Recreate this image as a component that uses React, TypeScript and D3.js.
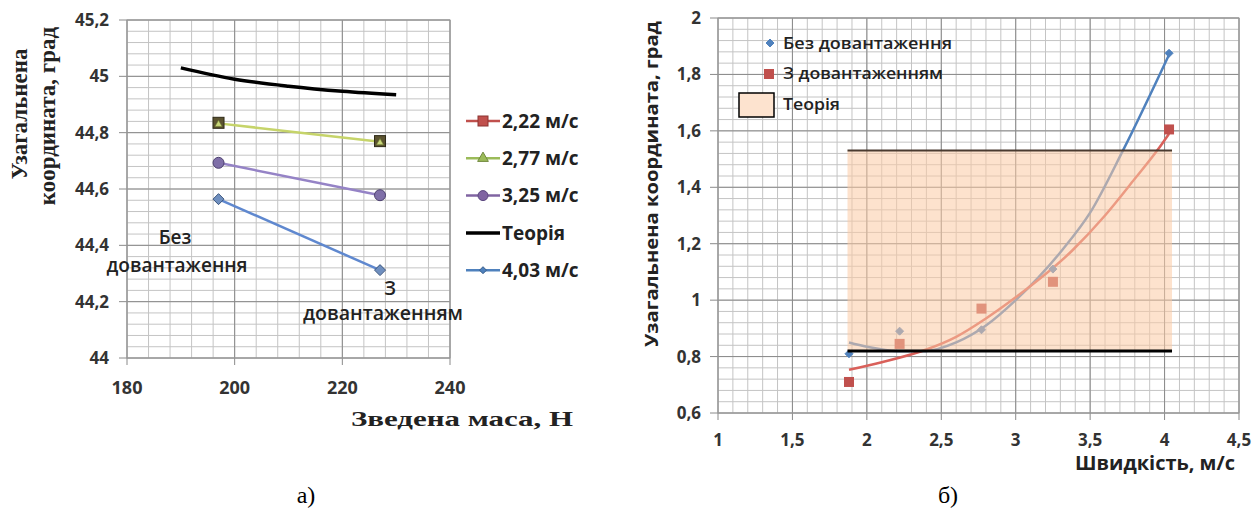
import React from 'react';
import * as d3 from 'd3';

// ---- chart а) : coordinate vs reduced mass ----
const massX = [197, 227];
const coord222 = [44.835, 44.77];
const coord277 = [44.833, 44.768];
const coord325 = [44.693, 44.578];
const coord403 = [44.564, 44.312];
const theoryMass = [190, 200, 210, 220, 230];
const theoryCoord = [45.03, 44.99, 44.965, 44.947, 44.935];
const leftXTicks = [180, 200, 220, 240];
const leftYTicks = [44, 44.2, 44.4, 44.6, 44.8, 45, 45.2];
const leftLegend = ['2,22 м/с', '2,77 м/с', '3,25 м/с', 'Теорія', '4,03 м/с'];

// ---- chart б) : coordinate vs speed ----
const speeds = [1.88, 2.22, 2.77, 3.25, 4.03];
const noLoad = [0.81, 0.89, 0.895, 1.11, 1.875];
const withLoad = [0.71, 0.845, 0.97, 1.065, 1.605];
const trendNoLoadX = [1.88, 2.0, 2.2, 2.4, 2.6, 2.8, 3.0, 3.31, 3.5, 3.72, 4.03];
const trendNoLoadY = [0.85, 0.835, 0.82, 0.82, 0.85, 0.91, 1.0, 1.176, 1.31, 1.53, 1.87];
const trendLoadX = [1.88, 2.1, 2.4, 2.6, 2.8, 3.0, 3.38, 3.6, 3.8, 3.95, 4.03];
const trendLoadY = [0.753, 0.78, 0.825, 0.87, 0.935, 1.01, 1.176, 1.3, 1.43, 1.53, 1.59];
const theorySpeed = [1.87, 4.05];
const theoryLow = [0.82, 0.82];
const theoryHigh = [1.53, 1.53];
const rightXTicks = [1, 1.5, 2, 2.5, 3, 3.5, 4, 4.5];
const rightYTicks = [0.6, 0.8, 1, 1.2, 1.4, 1.6, 1.8, 2];
const rightLegend = ['Без довантаження', 'З довантаженням', 'Теорія'];
const rightLegendWidth = [169, 160, 57];

const sans = '"Open Sans", sans-serif';
const serif = '"Liberation Serif", "Times New Roman", serif';
const fmt = (v: number) => String(+v.toFixed(2)).replace('.', ',');

const Grid = ({ x, y, xMinor, yMinor, xMajor, yMajor }: any) => {
  const [x0, x1] = x.range();
  const [y0, y1] = y.range();
  return (
    <g>
      {xMinor.map((v: number, i: number) => (
        <line key={'xm' + i} x1={x(v)} x2={x(v)} y1={y0} y2={y1} stroke="#c4c4c4" strokeWidth={1} />
      ))}
      {yMinor.map((v: number, i: number) => (
        <line key={'ym' + i} x1={x0} x2={x1} y1={y(v)} y2={y(v)} stroke="#c4c4c4" strokeWidth={1} />
      ))}
      {xMajor.map((v: number, i: number) => (
        <line key={'xM' + i} x1={x(v)} x2={x(v)} y1={y0 + 7} y2={y1} stroke="#8a8a8a" strokeWidth={1} />
      ))}
      {yMajor.map((v: number, i: number) => (
        <line key={'yM' + i} x1={x0 - 8} x2={x1} y1={y(v)} y2={y(v)} stroke="#8a8a8a" strokeWidth={1} />
      ))}
      <rect x={x0} y={y1} width={x1 - x0} height={y0 - y1} fill="none" stroke="#9a9a9a" />
    </g>
  );
};

const Diamond = ({ cx, cy, r, fill, stroke }: any) => (
  <path d={`M${cx},${cy - r}L${cx + r},${cy}L${cx},${cy + r}L${cx - r},${cy}Z`} fill={fill} stroke={stroke} strokeWidth={1} />
);

export default function App() {
  // left chart scales
  const xL = d3.scaleLinear().domain([180, 240]).range([127, 450]);
  const yL = d3.scaleLinear().domain([44, 45.2]).range([358, 20]);
  const lineL = d3.line<number>().x((_, i) => xL(massX[i]));
  const theoryLine = d3.line<number>()
    .x((_, i) => xL(theoryMass[i]))
    .y(d => yL(d))
    .curve(d3.curveMonotoneX);

  // right chart scales
  const xR = d3.scaleLinear().domain([1, 4.5]).range([718, 1239]);
  const yR = d3.scaleLinear().domain([0.6, 2]).range([413, 18]);
  const trend = (xs: number[]) => d3.line<number>()
    .x((_, i) => xR(xs[i]))
    .y(d => yR(d))
    .curve(d3.curveMonotoneX);
  const band = d3.area<number>()
    .x((_, i) => xR(theorySpeed[i]))
    .y0((_, i) => yR(theoryLow[i]))
    .y1(d => yR(d));

  const leftSeries = [
    { vals: coord277, color: '#c6d46a' },
    { vals: coord325, color: '#9583c6' },
    { vals: coord403, color: '#5f88cf' },
  ];
  const legendStyles = [
    { color: '#c0504d', mark: 'square' },
    { color: '#9bbb59', mark: 'triangle' },
    { color: '#8064a2', mark: 'circle' },
    { color: '#000000', mark: 'none' },
    { color: '#4f81bd', mark: 'diamond' },
  ];

  return (
    <svg width={1258} height={517} style={{ position: 'absolute', left: 0, top: 0, background: '#fff' }}>
      {/* ================= а) ================= */}
      <Grid
        x={xL}
        y={yL}
        xMinor={d3.range(180, 240.01, 4)}
        yMinor={d3.range(44, 45.2001, 0.04)}
        xMajor={leftXTicks}
        yMajor={leftYTicks}
      />
      <path d={theoryLine(theoryCoord) || ''} fill="none" stroke="#000" strokeWidth={3.5} />
      {leftSeries.map((s, k) => (
        <path key={k} d={lineL.y(d => yL(d))(s.vals) || ''} fill="none" stroke={s.color} strokeWidth={2.5} />
      ))}
      {/* 2,22 squares hidden under 2,77 triangles */}
      {coord222.map((v, i) => (
        <rect key={'sq' + i} x={xL(massX[i]) - 5.5} y={yL(v) - 5.5} width={11} height={11} fill="#5b5330" stroke="#2e2a18" />
      ))}
      {coord277.map((v, i) => (
        <path key={'tr' + i} d={d3.symbol(d3.symbolTriangle, 22)() || ''} transform={`translate(${xL(massX[i])},${yL(v) + 1})`} fill="#c9d77a" stroke="#6d7a30" strokeWidth={0.6} />
      ))}
      {coord325.map((v, i) => (
        <circle key={'c' + i} cx={xL(massX[i])} cy={yL(v)} r={5.5} fill="#7f6fa8" stroke="#4b3f6e" strokeWidth={1} />
      ))}
      {coord403.map((v, i) => (
        <Diamond key={'d' + i} cx={xL(massX[i])} cy={yL(v)} r={5.5} fill="#6f8fbf" stroke="#3a557e" />
      ))}
      {/* axis labels */}
      {leftYTicks.map(v => (
        <text key={'ly' + v} x={109} y={yL(v)} dy="0.35em" textAnchor="end" fontFamily={sans} fontWeight={700} fontSize={17} fill="#333">{fmt(v)}</text>
      ))}
      {leftXTicks.map(v => (
        <text key={'lx' + v} x={xL(v)} y={388} dy="0.35em" textAnchor="middle" fontFamily={sans} fontWeight={700} fontSize={18} fill="#333">{v}</text>
      ))}
      <text transform="translate(27,114) rotate(-90)" textAnchor="middle" fontFamily={serif} fontWeight={700} fontSize={23} fill="#222">Узагальнена</text>
      <text transform="translate(55,116) rotate(-90)" textAnchor="middle" fontFamily={serif} fontWeight={700} fontSize={23} fill="#222">координата, град</text>
      <text x={462} y={418} dy="0.35em" textAnchor="middle" fontFamily={serif} fontWeight={700} fontSize={22} textLength={222} lengthAdjust="spacingAndGlyphs" fill="#222">Зведена маса, Н</text>
      {/* annotations */}
      <text x={175} y={237} dy="0.35em" textAnchor="middle" fontFamily={sans} fontWeight={600} fontSize={19} fill="#222">Без</text>
      <text x={177} y={265} dy="0.35em" textAnchor="middle" fontFamily={sans} fontWeight={600} fontSize={19} textLength={141} lengthAdjust="spacingAndGlyphs" fill="#222">довантаження</text>
      <text x={390} y={288} dy="0.35em" textAnchor="middle" fontFamily={sans} fontWeight={600} fontSize={19} fill="#222">З</text>
      <text x={383} y={313} dy="0.35em" textAnchor="middle" fontFamily={sans} fontWeight={600} fontSize={19} textLength={160} lengthAdjust="spacingAndGlyphs" fill="#222">довантаженням</text>
      {/* legend */}
      {leftLegend.map((label, i) => {
        const ly = 121 + i * 37.3;
        const st = legendStyles[i];
        return (
          <g key={'ll' + i}>
            <line x1={466} x2={500} y1={ly} y2={ly} stroke={st.color} strokeWidth={st.mark === 'none' ? 3.5 : 2.5} />
            {st.mark === 'square' && <rect x={478} y={ly - 5} width={10} height={10} fill={st.color} stroke="#8c3330" />}
            {st.mark === 'triangle' && <path d={d3.symbol(d3.symbolTriangle, 50)() || ''} transform={`translate(483,${ly})`} fill={st.color} stroke="#71893f" />}
            {st.mark === 'circle' && <circle cx={483} cy={ly} r={5} fill={st.color} stroke="#5c4880" />}
            {st.mark === 'diamond' && <Diamond cx={483} cy={ly} r={3.5} fill={st.color} stroke="#385d8a" />}
            <text x={502} y={ly} dy="0.35em" fontFamily={sans} fontWeight={700} fontSize={19} fill="#222">{label}</text>
          </g>
        );
      })}

      {/* ================= б) ================= */}
      <Grid
        x={xR}
        y={yR}
        xMinor={d3.range(1, 4.5001, 0.1)}
        yMinor={d3.range(0.6, 2.0001, 0.04)}
        xMajor={rightXTicks}
        yMajor={rightYTicks}
      />
      <path d={trend(trendNoLoadX)(trendNoLoadY) || ''} fill="none" stroke="#4f81bd" strokeWidth={2.5} />
      <path d={trend(trendLoadX)(trendLoadY) || ''} fill="none" stroke="#d9605a" strokeWidth={2.5} />
      {speeds.map((s, i) => (
        <rect key={'rs' + i} x={xR(s) - 5} y={yR(withLoad[i]) - 5} width={10} height={10} fill="#c0504d" />
      ))}
      {speeds.map((s, i) => (
        <Diamond key={'bd' + i} cx={xR(s)} cy={yR(noLoad[i])} r={4} fill="#4f81bd" stroke="#4f81bd" />
      ))}
      <path d={band(theoryHigh) || ''} fill="#fbcaa4" fillOpacity={0.55} />
      <line x1={xR(theorySpeed[0])} x2={xR(theorySpeed[1])} y1={yR(theoryHigh[0])} y2={yR(theoryHigh[1])} stroke="#4a3b30" strokeWidth={2} />
      <line x1={xR(theorySpeed[0])} x2={xR(theorySpeed[1])} y1={yR(theoryLow[0])} y2={yR(theoryLow[1])} stroke="#000" strokeWidth={3} />
      {/* axis labels */}
      {rightYTicks.map(v => (
        <text key={'ry' + v} x={701} y={yR(v)} dy="0.35em" textAnchor="end" fontFamily={sans} fontWeight={700} fontSize={17} fill="#333">{fmt(v)}</text>
      ))}
      {rightXTicks.map(v => (
        <text key={'rx' + v} x={xR(v)} y={440} dy="0.35em" textAnchor="middle" fontFamily={sans} fontWeight={700} fontSize={17} fill="#333">{fmt(v)}</text>
      ))}
      <text transform="translate(652,184) rotate(-90)" textAnchor="middle" dy="0.35em" fontFamily={sans} fontWeight={700} fontSize={18} textLength={326} lengthAdjust="spacingAndGlyphs" fill="#222">Узагальнена  координата, град</text>
      <text x={1155} y={463} dy="0.35em" textAnchor="middle" fontFamily={sans} fontWeight={700} fontSize={19} textLength={160} lengthAdjust="spacingAndGlyphs" fill="#222">Швидкість, м/с</text>
      {/* legend */}
      <Diamond cx={770} cy={43} r={4} fill="#4f81bd" stroke="#4f81bd" />
      <rect x={764} y={69} width={10} height={10} fill="#c0504d" />
      <rect x={739} y={93} width={35} height={24} fill="#fde3cf" stroke="#000" strokeWidth={1.5} />
      {rightLegend.map((label, i) => (
        <text key={'rl' + i} x={783} y={43 + i * 30.5} dy="0.35em" fontFamily={sans} fontWeight={600} fontSize={16} textLength={rightLegendWidth[i]} lengthAdjust="spacingAndGlyphs" fill="#222">{label}</text>
      ))}

      {/* captions */}
      <text x={306} y={503} textAnchor="middle" fontFamily={serif} fontSize={24} fill="#000">а)</text>
      <text x={948} y={503} textAnchor="middle" fontFamily={serif} fontSize={24} fill="#000">б)</text>
    </svg>
  );
}
